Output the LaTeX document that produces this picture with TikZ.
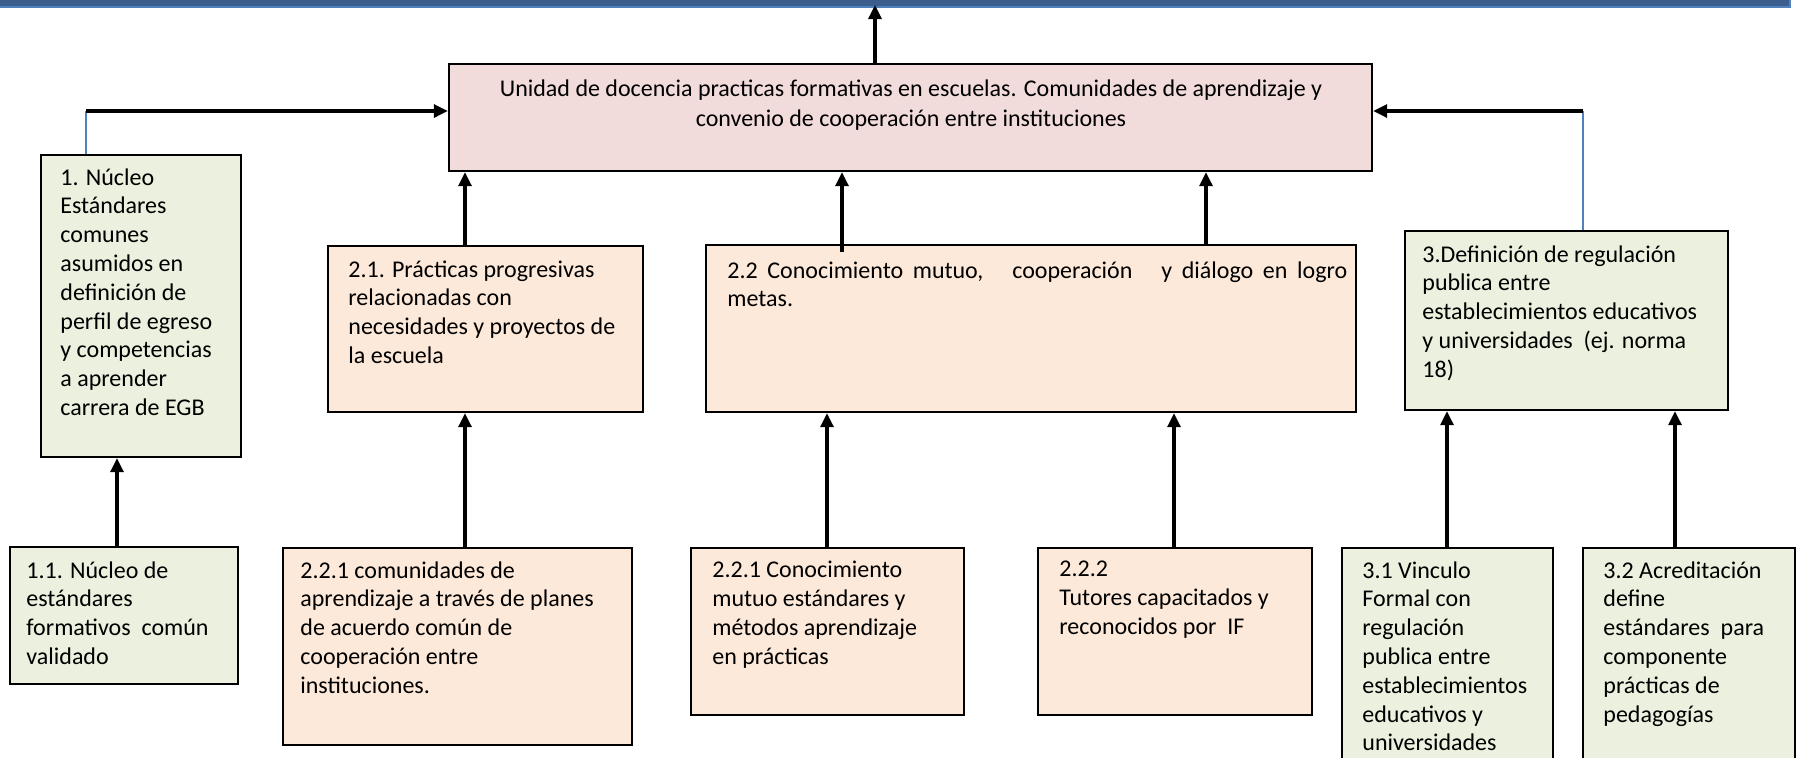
\documentclass[tikz,border=0pt]{standalone}
\usepackage{fontspec}
\setmainfont{Carlito}
\usetikzlibrary{arrows.meta,fit,calc}
\definecolor{gfill}{HTML}{EBF1DE}
\definecolor{pfill}{HTML}{FDE9D9}
\definecolor{mfill}{HTML}{F2DCDB}
\definecolor{topband}{HTML}{3B5E8C}
\definecolor{thinblue}{HTML}{4F81BD}
\begin{document}
\begin{tikzpicture}[x=0.5pt,y=-0.5pt,
  box/.style={draw=black,line width=1.2pt,inner sep=0pt},
  gbox/.style={box,fill=gfill},
  pbox/.style={box,fill=pfill},
  mbox/.style={box,fill=mfill},
  txt/.style={anchor=north west,align=left,inner sep=0pt,font=\fontsize{12pt}{14.4pt}\selectfont},
  arr/.style={line width=1.6pt,-{Triangle[length=7pt,width=6.5pt]}},
  blueline/.style={draw=thinblue,line width=0.6pt}]
\clip (0,0) rectangle (1800,757);
\useasboundingbox (0,0) rectangle (1800,757);
% top band
\fill[topband] (0,0) rectangle (1790,6);
\draw[thinblue,line width=0.6pt] (0,7) -- (1790,7) -- (1790,0);
% boxes
\node[mbox,fit={(449,64)(1372,171)}] (main) {};
\node[gbox,fit={(41,155)(241,457)}] (b1) {};
\node[gbox,fit={(10,547)(238,684)}] (b11) {};
\node[pbox,fit={(328,246)(643,412)}] (b21) {};
\node[pbox,fit={(283,548)(632,745)}] (b221) {};
\node[pbox,fit={(706,245)(1356,412)}] (b22) {};
\node[pbox,fit={(691,548)(964,715)}] (bc) {};
\node[pbox,fit={(1038,548)(1312,715)}] (b222) {};
\node[gbox,fit={(1405,231)(1728,410)}] (b3) {};
\node[gbox,fit={(1342,548)(1553,780)}] (b31) {};
\node[gbox,fit={(1583,548)(1795,780)}] (b32) {};
% texts
\node[txt,anchor=north,align=center,font=\fontsize{12pt}{15pt}\selectfont] (tmain) at (911,79) {Unidad de docencia practicas formativas en escuelas. Comunidades de aprendizaje y\\convenio de cooperación entre instituciones};
\node[txt] (t1) at (60,168) {1. Núcleo\\Estándares\\comunes\\asumidos en\\definición de\\perfil de egreso\\y competencias\\a aprender\\carrera de EGB};
\node[txt] (t11) at (26,561) {1.1. Núcleo de\\estándares\\formativos\ \ común\\validado};
\node[txt] (t21) at (348,260) {2.1. Prácticas progresivas\\relacionadas con\\necesidades y proyectos de\\la escuela};
\node[txt] (t22) at (727,261) {\makebox[310pt][s]{2.2 Conocimiento mutuo,\ \ \ cooperación\ \ \ y diálogo en logro}\\metas.};
\node[txt] (t221) at (300,561) {2.2.1 comunidades de\\aprendizaje a través de planes\\de acuerdo común de\\cooperación entre\\instituciones.};
\node[txt] (tc) at (712,561) {2.2.1 Conocimiento\\mutuo estándares y\\métodos aprendizaje\\en prácticas};
\node[txt] (t222) at (1059,561) {2.2.2\\Tutores capacitados y\\reconocidos por\ \ IF};
\node[txt] (t3) at (1422,245) {3.Definición de regulación\\publica entre\\establecimientos educativos\\y universidades\ \ (ej. norma\\18)};
\node[txt] (t31) at (1362,561) {3.1 Vinculo\\Formal con\\regulación\\publica entre\\establecimientos\\educativos y\\universidades};
\node[txt] (t32) at (1603,561) {3.2 Acreditación\\define\\estándares\ \ para\\componente\\prácticas de\\pedagogías};
% connectors
\coordinate (topend) at (875,5);
\draw[arr] (main.north -| topend) -- (topend);
\draw[arr] (b11.north -| 117,0) -- (b1.south -| 117,0);
\draw[arr] (b221.north -| 465,0) -- (b21.south -| 465,0);
\draw[arr] (b21.north -| 465,0) -- (main.south -| 465,0);
\coordinate (p22a) at (842,252);
\coordinate (p22b) at (1206,245);
\draw[arr] (p22a) -- (p22a |- main.south);
\draw[arr] (p22b) -- (p22b |- main.south);
\draw[arr] (bc.north -| 827,0) -- (b22.south -| 827,0);
\draw[arr] (b222.north -| 1174,0) -- (b22.south -| 1174,0);
\draw[arr] (b31.north -| 1447,0) -- (b3.south -| 1447,0);
\draw[arr] (b32.north -| 1675,0) -- (b3.south -| 1675,0);
\coordinate (lc) at (86,111);
\draw[blueline] (b1.north -| lc) -- (lc);
\draw[arr] (lc) -- (lc -| main.west);
\coordinate (rc) at (1583,111);
\draw[blueline] (b3.north -| rc) -- (rc);
\draw[arr] (rc) -- (rc -| main.east);
\end{tikzpicture}
\end{document}
